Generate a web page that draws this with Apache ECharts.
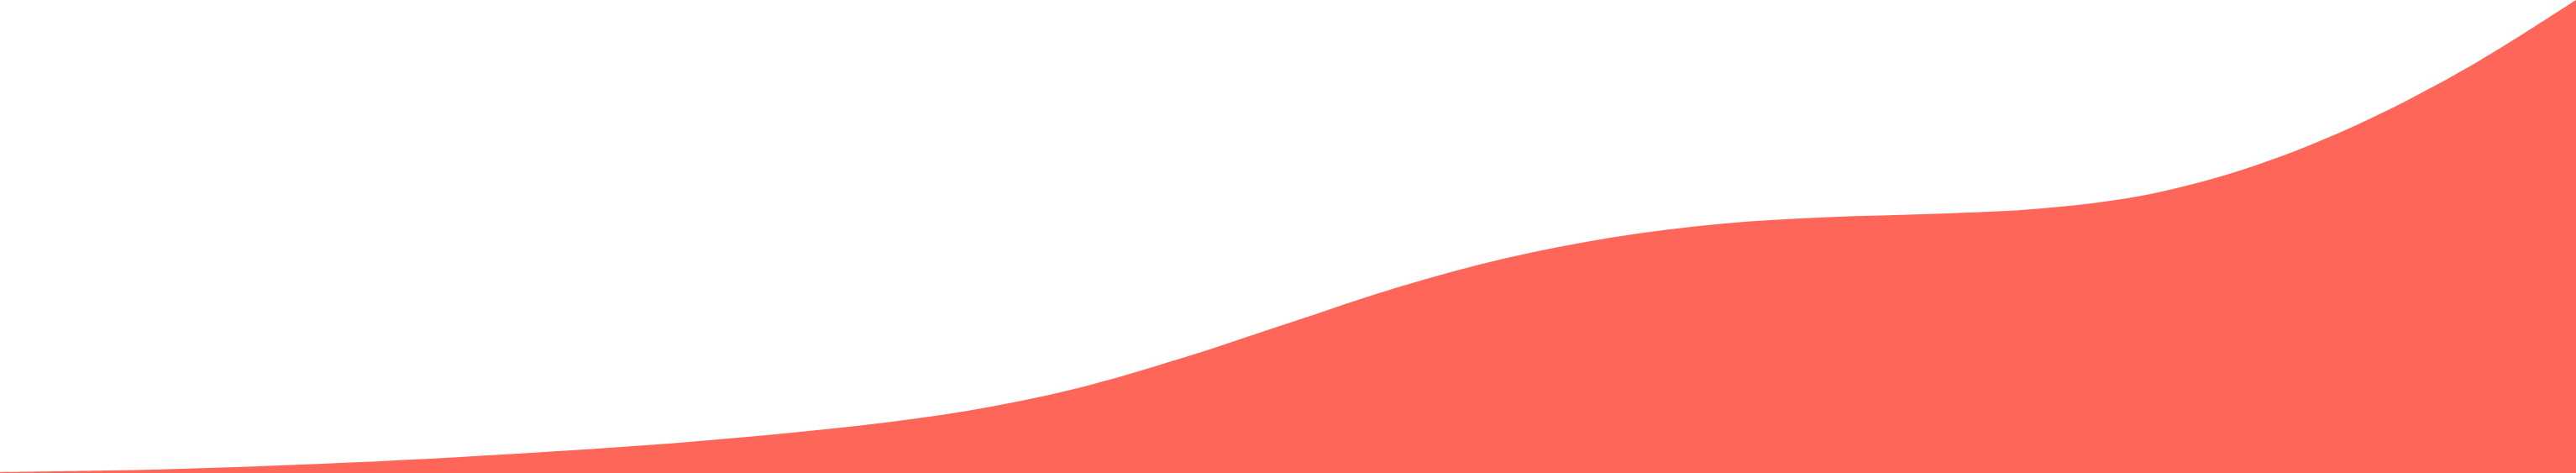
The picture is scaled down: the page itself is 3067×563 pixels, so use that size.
<!DOCTYPE html>
<html>
<head>
<meta charset="utf-8">
<script src="https://cdn.jsdelivr.net/npm/echarts@6/dist/echarts.min.js"></script>
<style>
html,body{margin:0;padding:0;background:#ffffff;}
#chart{width:3067px;height:563px;}
</style>
</head>
<body>
<div id="chart"></div>
<script>
const xPositions = [0, 128, 256, 384, 512, 640, 768, 896, 1024, 1152, 1280, 1408, 1536, 1664, 1792, 1920, 2048, 2176, 2304, 2432, 2560, 2688, 2816, 2944, 3067];
const heights = [1, 2.9, 6.3, 11.1, 17.1, 24.5, 33, 43.6, 56.5, 74, 100.3, 137, 179, 221, 255.5, 280.5, 296.5, 304.5, 308.5, 315, 332, 367, 419, 486, 563];

const seriesData = xPositions.map((x, i) => [x, heights[i]]);

const chart = echarts.init(document.getElementById('chart'), null, {renderer: 'canvas'});
chart.setOption({
  animation: false,
  backgroundColor: '#ffffff',
  grid: {left: 0, right: 0, top: 0, bottom: 0},
  xAxis: {
    type: 'value', min: 0, max: 3067,
    show: false
  },
  yAxis: {
    type: 'value', min: 0, max: 563,
    show: false
  },
  series: [{
    type: 'line',
    data: seriesData,
    smooth: 0.33,
    showSymbol: false,
    lineStyle: {width: 0, color: '#FF665A'},
    itemStyle: {color: '#FF665A'},
    areaStyle: {color: '#FF665A', opacity: 1}
  }]
});
</script>
</body>
</html>
